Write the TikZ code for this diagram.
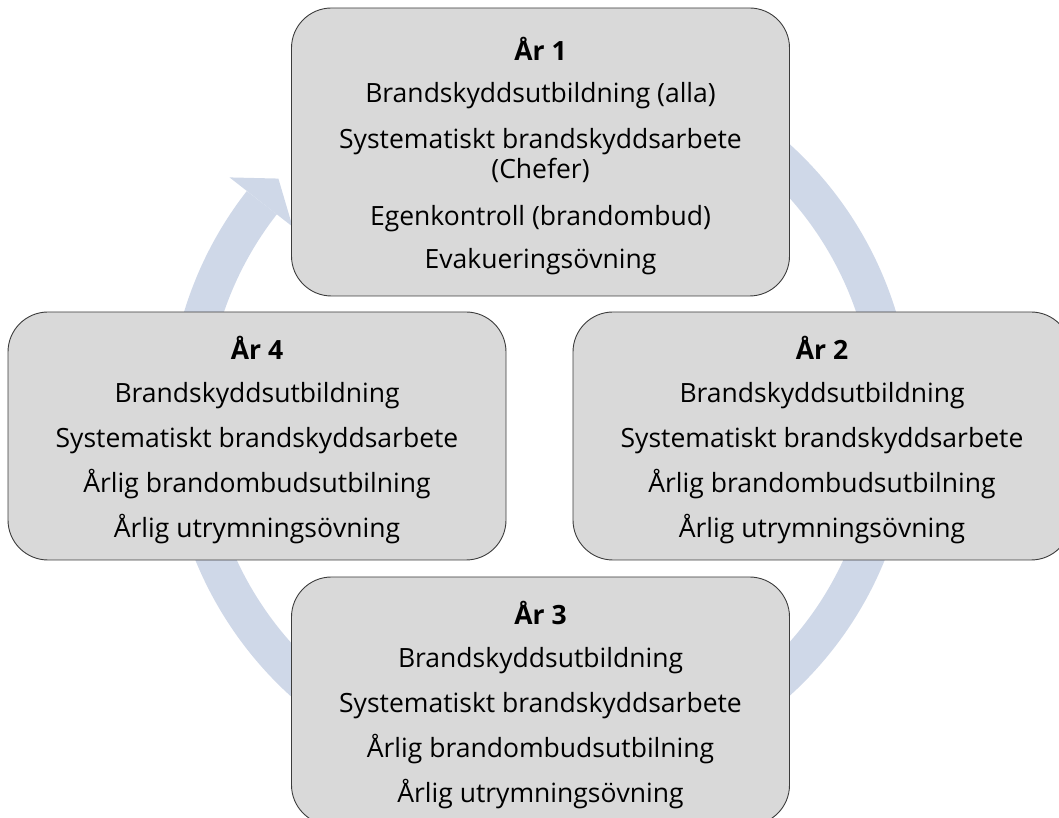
\documentclass[tikz,border=0pt]{standalone}
\usepackage{fontspec}
\setmainfont{Open Sans}
\usetikzlibrary{calc}
\definecolor{ringblue}{RGB}{207,216,232}
\definecolor{boxgray}{RGB}{217,217,217}
\definecolor{boxline}{RGB}{60,60,60}
\newcommand{\topstrut}{\rule{0pt}{31pt}}
\tikzset{
  yearbox/.style={draw=boxline, line width=0.9pt, fill=boxgray, rounded corners=40pt,
    minimum width=498pt, inner sep=0pt, align=center,
    font=\fontsize{26.5}{30}\selectfont},
  ringline/.style={draw=ringblue, line width=38pt},
  ringhead/.style={fill=ringblue}
}
\begin{document}
\begin{tikzpicture}[x=1pt,y=1pt]
\useasboundingbox (0,0) rectangle (1059,818);
\clip (0,0) rectangle (1059,818);
\coordinate (C) at (540,398);
% cycle arrow
\draw[ringline] ($(C)+(80:353)$) arc[start angle=80, end angle=-218, radius=353];
\coordinate (hA) at ($(C)+(142:394)$);
\coordinate (hB) at ($(C)+(137.3:356)$);
\coordinate (hC) at ($(C)+(142:314)$);
\fill[ringhead] (hA) -- (hB) -- (hC) -- cycle;
% boxes
\node[yearbox, minimum height=288pt] (y1) at (540.5,666)
  {\topstrut\textbf{År 1}\\[12pt]Brandskyddsutbildning (alla)\\[16pt]Systematiskt brandskyddsarbete\\(Chefer)\\[17pt]Egenkontroll (brandombud)\\[13pt]Evakueringsövning};
\node[yearbox, minimum height=248pt] (y4) at (257,382)
  {\topstrut\textbf{År 4}\\[13pt]Brandskyddsutbildning\\[15pt]Systematiskt brandskyddsarbete\\[15pt]Årlig brandombudsutbilning\\[15pt]Årlig utrymningsövning};
\node[yearbox, minimum height=248pt] (y2) at (822,382)
  {\topstrut\textbf{År 2}\\[13pt]Brandskyddsutbildning\\[15pt]Systematiskt brandskyddsarbete\\[15pt]Årlig brandombudsutbilning\\[15pt]Årlig utrymningsövning};
\node[yearbox, minimum height=248pt] (y3) at (540.5,117)
  {\topstrut\textbf{År 3}\\[13pt]Brandskyddsutbildning\\[15pt]Systematiskt brandskyddsarbete\\[15pt]Årlig brandombudsutbilning\\[15pt]Årlig utrymningsövning};
\end{tikzpicture}
\end{document}
